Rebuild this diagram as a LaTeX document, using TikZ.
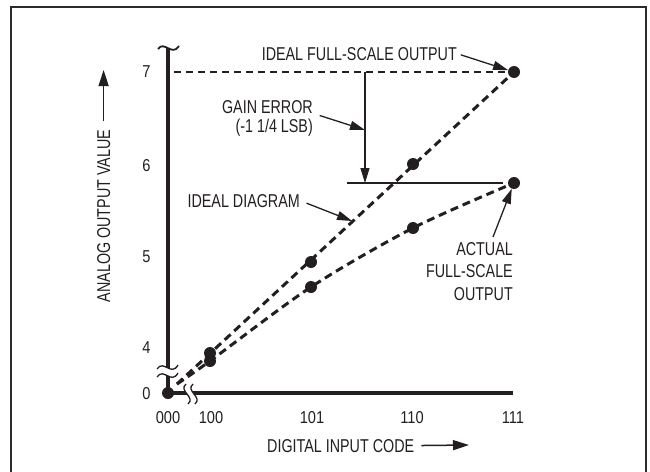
\documentclass[tikz,border=0pt]{standalone}
\usepackage{fontspec}
\setmainfont{Liberation Sans}[FakeStretch=0.77]
\newfontfamily\tickfont{Liberation Sans}[FakeStretch=0.85]
\usetikzlibrary{arrows.meta}
\definecolor{ink}{HTML}{231F20}
\definecolor{framec}{HTML}{2B2B2B}
\begin{document}
\begin{tikzpicture}[x=1pt,y=-1pt,
  lbl/.style={inner sep=0pt, text=ink, font=\fontsize{18.6}{22.5}\selectfont},
  tick/.style={inner sep=0pt, text=ink, font=\tickfont\fontsize{17.2}{20}\selectfont},
  dot/.style={circle, fill=ink, inner sep=0pt, minimum size=12pt},
  thinline/.style={line width=1.3pt, draw=ink},
  arr/.style={thinline, -{Triangle[length=15pt,width=9pt]}},
  bigarr/.style={line width=1.5pt, draw=ink, -{Triangle[length=16pt,width=10pt]}},
  axisline/.style={line width=3.5pt, draw=ink},
  dcurve/.style={line width=3pt, draw=ink, dash pattern=on 8pt off 5pt},
  ddash/.style={line width=1.2pt, draw=ink, dash pattern=on 7pt off 5pt},
  brkline/.style={line width=1.3pt, draw=ink},
]
\useasboundingbox (0,0) rectangle (650,471);
\draw[line width=2pt, draw=framec] (11,6.5) rectangle (646,490);

% axes
\coordinate (ytop) at (168,48);
\coordinate (org) at (168,393);
\coordinate (xend) at (513,393);
\draw[axisline] (ytop) -- (org) -- (xend);

% top tilde
\draw[line width=1.8pt, draw=ink] (158,49) .. controls (164,40) and (172,57) .. (179,46);

% y-axis break
\fill[white] (157,369) .. controls (164,359) and (171,377) .. (178,365) -- (178,373) .. controls (171,385) and (164,367) .. (157,377) -- cycle;
\draw[brkline] (157,369) .. controls (164,359) and (171,377) .. (178,365);
\draw[brkline] (157,377) .. controls (164,367) and (171,385) .. (178,373);

% x-axis break
\fill[white] (186,384) .. controls (178,391) and (196,397) .. (188,404) -- (195,404) .. controls (203,397) and (185,391) .. (193,384) -- cycle;
\draw[brkline] (186,384) .. controls (178,391) and (196,397) .. (188,404);
\draw[brkline] (193,384) .. controls (185,391) and (203,397) .. (195,404);

% point positions
\coordinate (s) at (177,384);
\coordinate (p-i100) at (210,353);
\coordinate (p-a100) at (210,361);
\coordinate (p-i101) at (311,262);
\coordinate (p-a101) at (311,287);
\coordinate (p-i110) at (413,164);
\coordinate (p-a110) at (413,228);
\coordinate (p-i111) at (514,72);
\coordinate (p-a111) at (514,183);

% dashed transfer curves
\draw[dcurve] (s) -- (p-i111);
\draw[dcurve] plot[smooth, tension=0.5] coordinates {(s) (p-a100) (p-a101) (p-a110) (p-a111)};

% dots
\node[dot] (o) at (org) {};
\node[dot] (i100) at (p-i100) {};
\node[dot] (a100) at (p-a100) {};
\node[dot] (i101) at (p-i101) {};
\node[dot] (a101) at (p-a101) {};
\node[dot] (i110) at (p-i110) {};
\node[dot] (a110) at (p-a110) {};
\node[dot] (i111) at (p-i111) {};
\node[dot] (a111) at (p-a111) {};

% ideal full scale dashed line
\coordinate (h7s) at (174,72);
\draw[ddash] (h7s) -- (i111);

% gain error construction
\coordinate (gtop) at (365,72);
\coordinate (gbot) at (365,183);
\coordinate (gmid) at (365,130);
\draw[arr] (gtop) -- (gbot);
\coordinate (hls) at (347,183);
\draw[thinline, shorten >=5pt] (hls) -- (a111);

% tick labels
\node[tick] (t7) at (146.5,72) {7};
\node[tick] (t6) at (146.5,166) {6};
\node[tick] (t5) at (146.5,257) {5};
\node[tick] (t4) at (146.5,348) {4};
\node[tick] (t0) at (146.5,394) {0};
\node[tick] (t000) at (168,417.5) {000};
\node[tick] (t100) at (211,417.5) {100};
\node[tick] (t101) at (312,417.5) {101};
\node[tick] (t110) at (412,417.5) {110};
\node[tick] (t111) at (513,417.5) {111};

% labels
\node[lbl, anchor=base east] (ifs) at (457,60) {IDEAL FULL-SCALE OUTPUT};
\draw[arr, shorten <=4pt] (ifs.east) -- (i111);

\node[lbl, anchor=base east] (gain1) at (313,113) {GAIN ERROR};
\node[lbl, anchor=base east] (gain2) at (313,132) {(-1 1/4 LSB)};
\draw[arr, shorten <=7pt] (gain1.south east) -- (gmid);

\node[lbl, anchor=base east] (idd) at (300,207) {IDEAL DIAGRAM};
\coordinate (idt) at (352,221);
\draw[arr, shorten <=7pt] (idd.east) -- (idt);

\node[lbl, anchor=north east, align=right] (act) at (513,242) {ACTUAL\\FULL-SCALE\\OUTPUT};
\draw[arr] ([xshift=-20pt,yshift=5pt]act.north east) -- (a111);

\node[lbl, anchor=base west] (dic) at (267,452) {DIGITAL INPUT CODE};
\coordinate (dict) at (469,445);
\draw[bigarr, shorten <=7pt] (dic.east) -- (dict);

\node[lbl, rotate=90, anchor=base] (aov) at (110,216) {ANALOG OUTPUT VALUE};
\coordinate (aovt) at (103,70);
\draw[bigarr, shorten <=9pt] (aov.east) -- (aov.east |- aovt);
\end{tikzpicture}
\end{document}
